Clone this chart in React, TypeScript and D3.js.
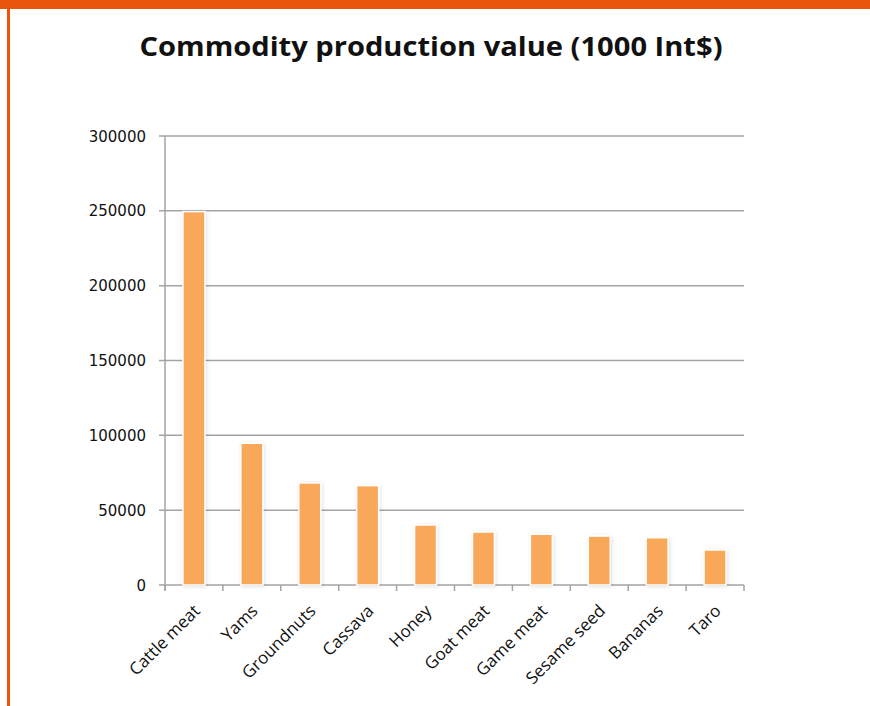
import React from "react";
import * as d3 from "d3";

const categories = ["Cattle meat", "Yams", "Groundnuts", "Cassava", "Honey", "Goat meat", "Game meat", "Sesame seed", "Bananas", "Taro"];
const values = [249500, 94700, 68200, 66400, 40100, 35400, 33900, 32700, 31600, 23400];
const yTicks = [0, 50000, 100000, 150000, 200000, 250000, 300000];
const title = "Commodity production value (1000 Int$)";

export default function App() {
  const W = 870, H = 706;
  const x0 = 165, x1 = 744, yTop = 136, yBot = 585;
  const x = d3.scaleBand<string>().domain(categories).range([x0, x1]).paddingInner(0).paddingOuter(0);
  const y = d3.scaleLinear().domain([0, 300000]).range([yBot, yTop]);
  const bw = 22;
  const grid = "#a3a3a3";
  return (
    <svg width={W} height={H} style={{ position: "fixed", top: 0, left: 0 }} xmlns="http://www.w3.org/2000/svg">
      <defs>
        <filter id="sh" x="-30%" y="-10%" width="160%" height="120%">
          <feGaussianBlur in="SourceAlpha" stdDeviation="2" />
          <feOffset dx="1" dy="1" result="b" />
          <feComponentTransfer><feFuncA type="linear" slope="0.12" /></feComponentTransfer>
          <feMerge><feMergeNode /><feMergeNode in="SourceGraphic" /></feMerge>
        </filter>
      </defs>
      <rect x={0} y={0} width={W} height={H} fill="#fff" />
      <rect x={0} y={0} width={W} height={9} fill="#E7560B" />
      <rect x={7} y={9} width={3} height={H - 9} fill="#E7560B" />
      <text x={431} y={56} textAnchor="middle" fontFamily="'Open Sans', sans-serif" fontWeight="bold" fontSize={27} fill="#111" textLength={583} lengthAdjust="spacingAndGlyphs">{title}</text>
      {yTicks.map((t) => (
        <g key={t}>
          <line x1={159} x2={x1} y1={y(t)} y2={y(t)} stroke={grid} strokeWidth={1.5} />
          <text x={146} y={y(t) + 5.5} textAnchor="end" fontFamily="'DejaVu Sans', Verdana, sans-serif" fontSize={15} fill="#111">{t}</text>
        </g>
      ))}
      <line x1={x0} x2={x0} y1={yTop} y2={yBot + 5} stroke={grid} strokeWidth={1.5} />
      {categories.map((c, i) => (
        <line key={"t" + i} x1={x(c)!} x2={x(c)!} y1={yBot} y2={yBot + 6} stroke={grid} strokeWidth={1.5} />
      ))}
      <line x1={x1} x2={x1} y1={yBot} y2={yBot + 6} stroke={grid} strokeWidth={1.5} />
      {categories.map((c, i) => {
        const cx = x(c)! + x.bandwidth() / 2;
        return (
          <rect key={c} x={cx - bw / 2} y={y(values[i])} width={bw} height={yBot - y(values[i])} fill="#F9A85A" stroke="#fff" strokeWidth={1.5} filter="url(#sh)" />
        );
      })}
      {categories.map((c) => {
        const cx = x(c)! + x.bandwidth() / 2;
        return (
          <text key={"l" + c} transform={`translate(${cx + 7},${612}) rotate(-45)`} textAnchor="end" fontFamily="'Open Sans', sans-serif" fontSize={17} fill="#111">{c}</text>
        );
      })}
    </svg>
  );
}
